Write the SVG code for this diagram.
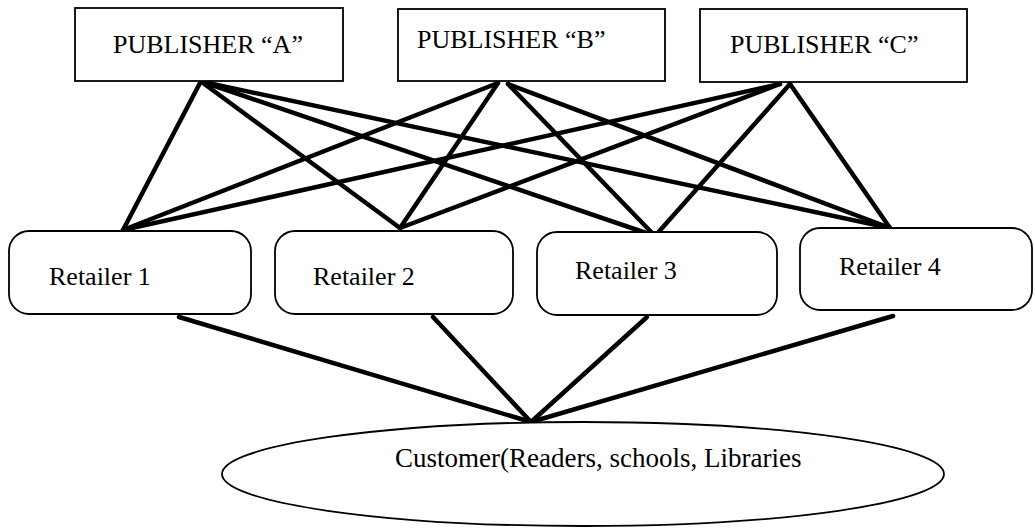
<svg xmlns="http://www.w3.org/2000/svg" width="1035" height="528" viewBox="0 0 1035 528">
<style>
.box{fill:#fff;stroke:#000;stroke-width:1.8}
.t{font-family:"Liberation Serif",serif;font-size:26px;fill:#000}
.c line{stroke:#000;stroke-width:4.5;stroke-linecap:round}
</style>
<rect width="1035" height="528" fill="#fff"/>
<g class="c" id="connectors">
<line x1="200" y1="83" x2="123" y2="230"/>
<line x1="203" y1="83" x2="400" y2="228"/>
<line x1="206" y1="83" x2="655" y2="236"/>
<line x1="208" y1="83" x2="890" y2="228"/>
<line x1="498" y1="83" x2="123" y2="230"/>
<line x1="498" y1="83" x2="400" y2="228"/>
<line x1="508" y1="84" x2="655" y2="236"/>
<line x1="508" y1="84" x2="890" y2="228"/>
<line x1="780" y1="84" x2="123" y2="230"/>
<line x1="780" y1="84" x2="400" y2="228"/>
<line x1="790" y1="84" x2="655" y2="236"/>
<line x1="790" y1="84" x2="890" y2="228"/>
<line x1="179" y1="317" x2="531" y2="422"/>
<line x1="433" y1="317" x2="531" y2="422"/>
<line x1="647" y1="317" x2="531" y2="422"/>
<line x1="893" y1="316" x2="531" y2="422"/>
</g>
<g id="pubA"><rect class="box" x="75" y="8" width="268" height="73"/><text class="t" x="113" y="53">PUBLISHER “A”</text></g>
<g id="pubB"><rect class="box" x="398" y="9" width="267" height="72"/><text class="t" x="417" y="48">PUBLISHER “B”</text></g>
<g id="pubC"><rect class="box" x="700" y="9" width="267" height="73"/><text class="t" x="730" y="53">PUBLISHER “C”</text></g>
<g id="ret1"><rect class="box" x="9" y="231" width="242" height="83" rx="20"/><text class="t" x="49" y="285">Retailer 1</text></g>
<g id="ret2"><rect class="box" x="275" y="231" width="238" height="83" rx="20"/><text class="t" x="313" y="285">Retailer 2</text></g>
<g id="ret3"><rect class="box" x="537" y="232" width="240" height="83" rx="20"/><text class="t" x="575" y="279">Retailer 3</text></g>
<g id="ret4"><rect class="box" x="800" y="228" width="232" height="82" rx="20"/><text class="t" x="839" y="275">Retailer 4</text></g>
<g id="customer"><ellipse class="box" cx="583" cy="474" rx="361" ry="52"/><text class="t" x="395" y="467" style="font-size:27px">Customer(Readers, schools, Libraries</text></g>
</svg>
